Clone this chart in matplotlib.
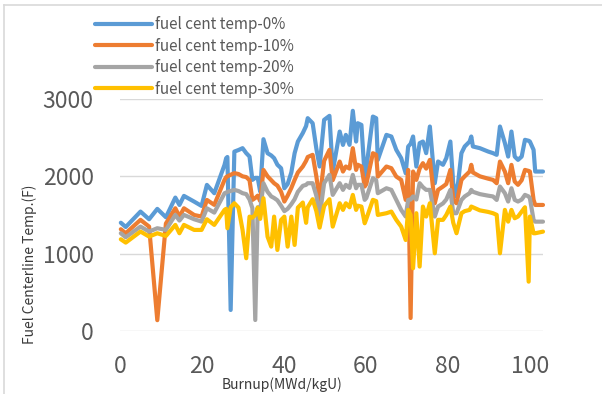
import matplotlib
matplotlib.use("Agg")
import matplotlib.pyplot as plt
from matplotlib.lines import Line2D

plt.rcParams["font.family"] = ["Noto Sans CJK KR", "DejaVu Sans"]

# burnup (MWd/kgU), shared by all four series
burnup = [
    0.2, 1.4, 5.0, 7.1, 9.1, 11.2, 13.5, 14.5, 15.6, 18.1, 19.9, 21.2, 23.0, 25.5,
    25.9, 26.2, 27.0, 27.9, 28.9, 29.9, 30.8, 31.6, 32.3, 33.0, 33.6, 34.2, 35.0,
    36.0, 36.9, 37.6, 38.4, 39.3, 40.1, 40.9, 41.8, 42.6, 43.4, 44.6, 45.4, 45.8,
    47.0, 47.9, 48.7, 49.8, 51.1,
    51.9, 53.6, 54.4, 55.1, 56.0, 56.8, 57.6, 58.0, 58.9, 59.7, 60.1, 61.7, 62.5,
    62.9, 65.0, 66.2, 67.4, 68.6, 69.7, 70.3, 70.9, 71.5, 72.3, 73.1, 73.9, 74.7,
    75.6,
    76.8, 77.6, 78.8, 79.6, 80.6, 81.3, 82.1, 83.3, 84.1, 85.3, 85.7, 86.1, 87.8,
    89.8, 91.0, 91.9,
    92.7, 93.9, 94.7, 95.5, 96.3, 97.1, 98.0, 98.8, 99.7, 100.0, 100.9, 101.3, 103.2,
]

temp_0 = [
    1400, 1345, 1544, 1445, 1579, 1471, 1725, 1630, 1747, 1673, 1617, 1889, 1782, 2148,
    2235, 2250, 272, 2320, 2340, 2364, 2300, 2256, 1954, 1980, 1980, 1803, 2480,
    2299, 2270, 2235, 2150, 2105, 1846, 1900, 2050, 2299, 2450, 2560, 2650, 2752,
    2687, 2360, 2127, 2730, 2782,
    2061, 2579, 2406, 2536, 2407, 2847, 2450, 2687, 2665, 1997, 2105, 2773, 2752,
    2213, 2536, 2515, 2343, 2235, 2040, 2385, 2420, 2515, 2127, 2429, 2450, 2300,
    2644,
    1911, 2192, 2149, 2235, 2450, 1911, 1738, 2299, 2386, 2450, 2515, 2386, 2364,
    2321, 2300, 2278,
    2644, 2430, 2256, 2579, 2256, 2213, 2256, 2472, 2460, 2450, 2343, 2062, 2062,
]

temp_10 = [
    1316, 1264, 1437, 1350, 140, 1390, 1587, 1480, 1587, 1500, 1480, 1695, 1631, 1954,
    1990, 2000, 2020, 2041, 2030, 2000, 1990, 1950, 1695, 1720, 1750, 1680, 2083,
    2000, 1950, 1911, 1880, 1800, 1674, 1750, 1850, 1954, 2050, 2127, 2200, 2250,
    2278, 2000, 1695, 2200, 2342,
    1950, 2191, 2062, 2127, 2100, 2364, 2083, 2150, 2127, 1868, 1900, 2299, 2278,
    1997, 2127, 2105, 1997, 1954, 1695, 2083, 168, 2062, 1954, 2100, 2170, 2100,
    2213,
    1652, 1825, 1868, 1900, 2083, 1695, 1652, 1954, 2000, 2062, 2149, 2050, 2000,
    1970, 1954, 1911,
    2191, 2062, 1911, 2148, 1933, 1890, 1950, 2083, 2070, 2062, 1696, 1630, 1630,
]

temp_20 = [
    1264, 1212, 1350, 1286, 1329, 1307, 1501, 1428, 1501, 1445, 1415, 1587, 1531, 1781,
    1790, 1800, 1810, 1825, 1810, 1782, 1770, 1700, 1588, 142, 1600, 1560, 1911,
    1800, 1740, 1720, 1690, 1620, 1550, 1580, 1640, 1704, 1800, 1877, 1890, 1911,
    1911, 1750, 1480, 1911, 2019,
    1760, 1911, 1825, 1890, 1850, 2019, 1846, 1890, 1890, 1696, 1720, 1976, 1950,
    1782, 1846, 1825, 1696, 1566, 1480, 1695, 1700, 1740, 1700, 1911, 1860, 1825,
    1825,
    1480, 1609, 1650, 1700, 1825, 1523, 1523, 1695, 1740, 1782, 1825, 1800, 1770,
    1750, 1740, 1695,
    1868, 1782, 1674, 1846, 1696, 1674, 1700, 1760, 1740, 1717, 1436, 1414, 1414,
]

temp_30 = [
    1186, 1143, 1286, 1221, 1264, 1229, 1372, 1264, 1372, 1307, 1307, 1445, 1372, 1566,
    1580, 1329, 1600, 1652, 1596, 1307, 941, 1479, 1466, 1500, 1596, 1450, 1717,
    1220, 1091, 1479, 1048, 1436, 1479, 1091, 1479, 1113, 1596, 1661, 1399, 1600,
    1704, 1550, 1337, 1617, 1704,
    1350, 1652, 1566, 1652, 1600, 1760, 1566, 1620, 1609, 1393, 1450, 1696, 1680,
    1501, 1523, 1544, 1437, 1350, 1177, 1566, 1500, 811, 1523, 833, 1609, 1480,
    1652,
    1005, 1437, 1437, 1500, 1609, 1400, 1264, 1523, 1550, 1566, 1609, 1600, 1560,
    1540, 1523, 1502,
    1005, 1566, 1414, 1566, 1458, 1480, 1544, 1600, 638, 1480, 1264, 1264, 1285,
]

series = [
    ("fuel cent temp-0%", temp_0, "#5B9BD5"),
    ("fuel cent temp-10%", temp_10, "#ED7D31"),
    ("fuel cent temp-20%", temp_20, "#A5A5A5"),
    ("fuel cent temp-30%", temp_30, "#FFC000"),
]

fig = plt.figure(figsize=(6.02, 3.94), dpi=100)
ax = fig.add_axes([120 / 602, 1 - 331 / 394, 423 / 602, 232 / 394])

for label, values, color in series:
    ax.plot(burnup, values, color=color, lw=3.0, label=label,
            solid_joinstyle="round", solid_capstyle="round", clip_on=False)

ax.set_xlim(0, 103.2)
ax.set_ylim(0, 3000)
ax.set_xticks([0, 20, 40, 60, 80, 100])
ax.set_yticks([0, 1000, 2000, 3000])
ax.grid(axis="y", color="#d9d9d9", lw=1.0)
ax.set_axisbelow(True)
for s in ax.spines.values():
    s.set_visible(False)
ax.tick_params(axis="both", length=0, labelsize=16.5, labelcolor="#595959")
ax.tick_params(axis="y", pad=19)
ax.tick_params(axis="x", pad=17)

fig.text(282 / 602, 1 - 385 / 394, "Burnup(MWd/kgU)", ha="center", va="center",
         fontsize=10, color="#3a3a3a")
fig.text(30 / 602, 1 - 264 / 394, "Fuel Centerline Temp.(F)", ha="center", va="center",
         rotation=90, fontsize=10, color="#3a3a3a")

fig.legend(loc="upper left", bbox_to_anchor=(95 / 602, 1 - 16 / 394), frameon=False,
           fontsize=11, handlelength=3.7, handletextpad=0.2, labelspacing=0.3,
           borderpad=0, borderaxespad=0, labelcolor="#595959")

# chart-area border (only the top and left edges are inside the crop)
fig.add_artist(Line2D([4 / 602, 1], [1 - 5 / 394, 1 - 5 / 394], color="#d9d9d9", lw=1.2,
                      transform=fig.transFigure))
fig.add_artist(Line2D([4 / 602, 4 / 602], [0, 1 - 5 / 394], color="#d9d9d9", lw=1.2,
                      transform=fig.transFigure))

fig.savefig("out.png", dpi=100)
